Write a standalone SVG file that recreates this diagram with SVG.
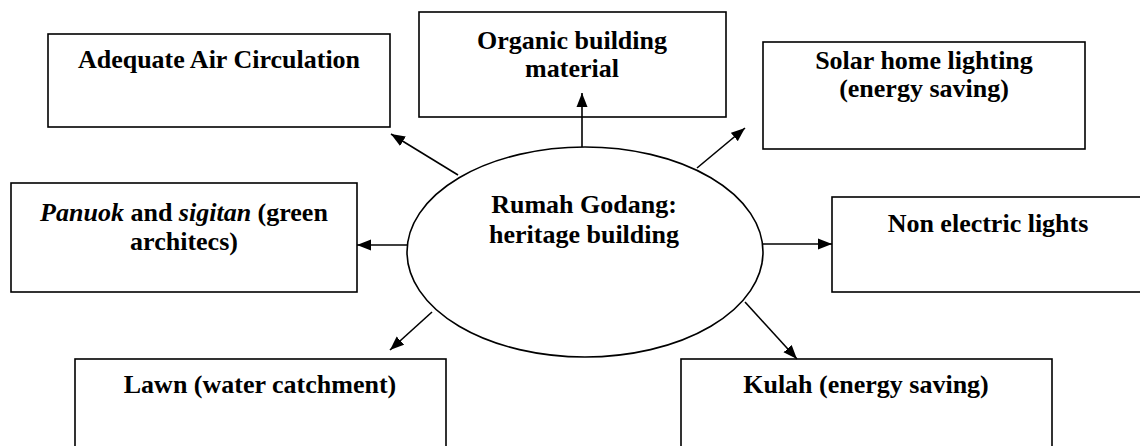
<svg xmlns="http://www.w3.org/2000/svg" width="1140" height="446" viewBox="0 0 1140 446">
<style>
.box{fill:#fff;stroke:#000;stroke-width:1.6}
.t{font-family:"Liberation Serif","Times New Roman",serif;font-weight:bold;font-size:26px;fill:#000;text-anchor:middle}
.i{font-style:italic}
.c{stroke:#000;stroke-width:1.6;fill:none;marker-end:url(#ah)}
</style>
<defs>
<marker id="ah" markerUnits="userSpaceOnUse" markerWidth="16" markerHeight="12" refX="14" refY="6" orient="auto">
<path d="M0,0.5 L14,6 L0,11.5 z" fill="#000"/>
</marker>
</defs>
<rect width="1140" height="446" fill="#fff"/>
<g id="center">
<ellipse class="box" cx="585" cy="252" rx="178" ry="105"/>
<text class="t" x="584" y="213">Rumah Godang:</text>
<text class="t" x="584" y="243">heritage building</text>
</g>
<g id="adequate">
<rect class="box" x="48" y="34" width="342" height="93"/>
<text class="t" x="219" y="68">Adequate Air Circulation</text>
</g>
<g id="organic">
<rect class="box" x="419" y="12" width="307" height="105"/>
<text class="t" x="572" y="49">Organic building</text>
<text class="t" x="572" y="77">material</text>
</g>
<g id="solar">
<rect class="box" x="763" y="42" width="322" height="107"/>
<text class="t" x="924" y="69">Solar home lighting</text>
<text class="t" x="924" y="97">(energy saving)</text>
</g>
<g id="panuok">
<rect class="box" x="11" y="183" width="346" height="109"/>
<text class="t" x="184" y="221"><tspan class="i">Panuok</tspan> and <tspan class="i">sigitan</tspan> (green</text>
<text class="t" x="184" y="250">architecs)</text>
</g>
<g id="nonelectric">
<rect class="box" x="832" y="197" width="314" height="95"/>
<text class="t" x="988" y="232">Non electric lights</text>
</g>
<g id="lawn">
<rect class="box" x="75" y="359" width="371" height="100"/>
<text class="t" x="260" y="393">Lawn (water catchment)</text>
</g>
<g id="kulah">
<rect class="box" x="681" y="359" width="371" height="100"/>
<text class="t" x="866" y="393">Kulah (energy saving)</text>
</g>
<g id="connectors">
<line class="c" x1="582" y1="147" x2="582" y2="93"/>
<line class="c" x1="458" y1="175" x2="391" y2="134"/>
<line class="c" x1="697" y1="168" x2="745" y2="128"/>
<line class="c" x1="408" y1="245" x2="357" y2="245"/>
<line class="c" x1="763" y1="244" x2="832" y2="244"/>
<line class="c" x1="432" y1="312" x2="390" y2="350"/>
<line class="c" x1="745" y1="302" x2="797" y2="359"/>
</g>
</svg>
